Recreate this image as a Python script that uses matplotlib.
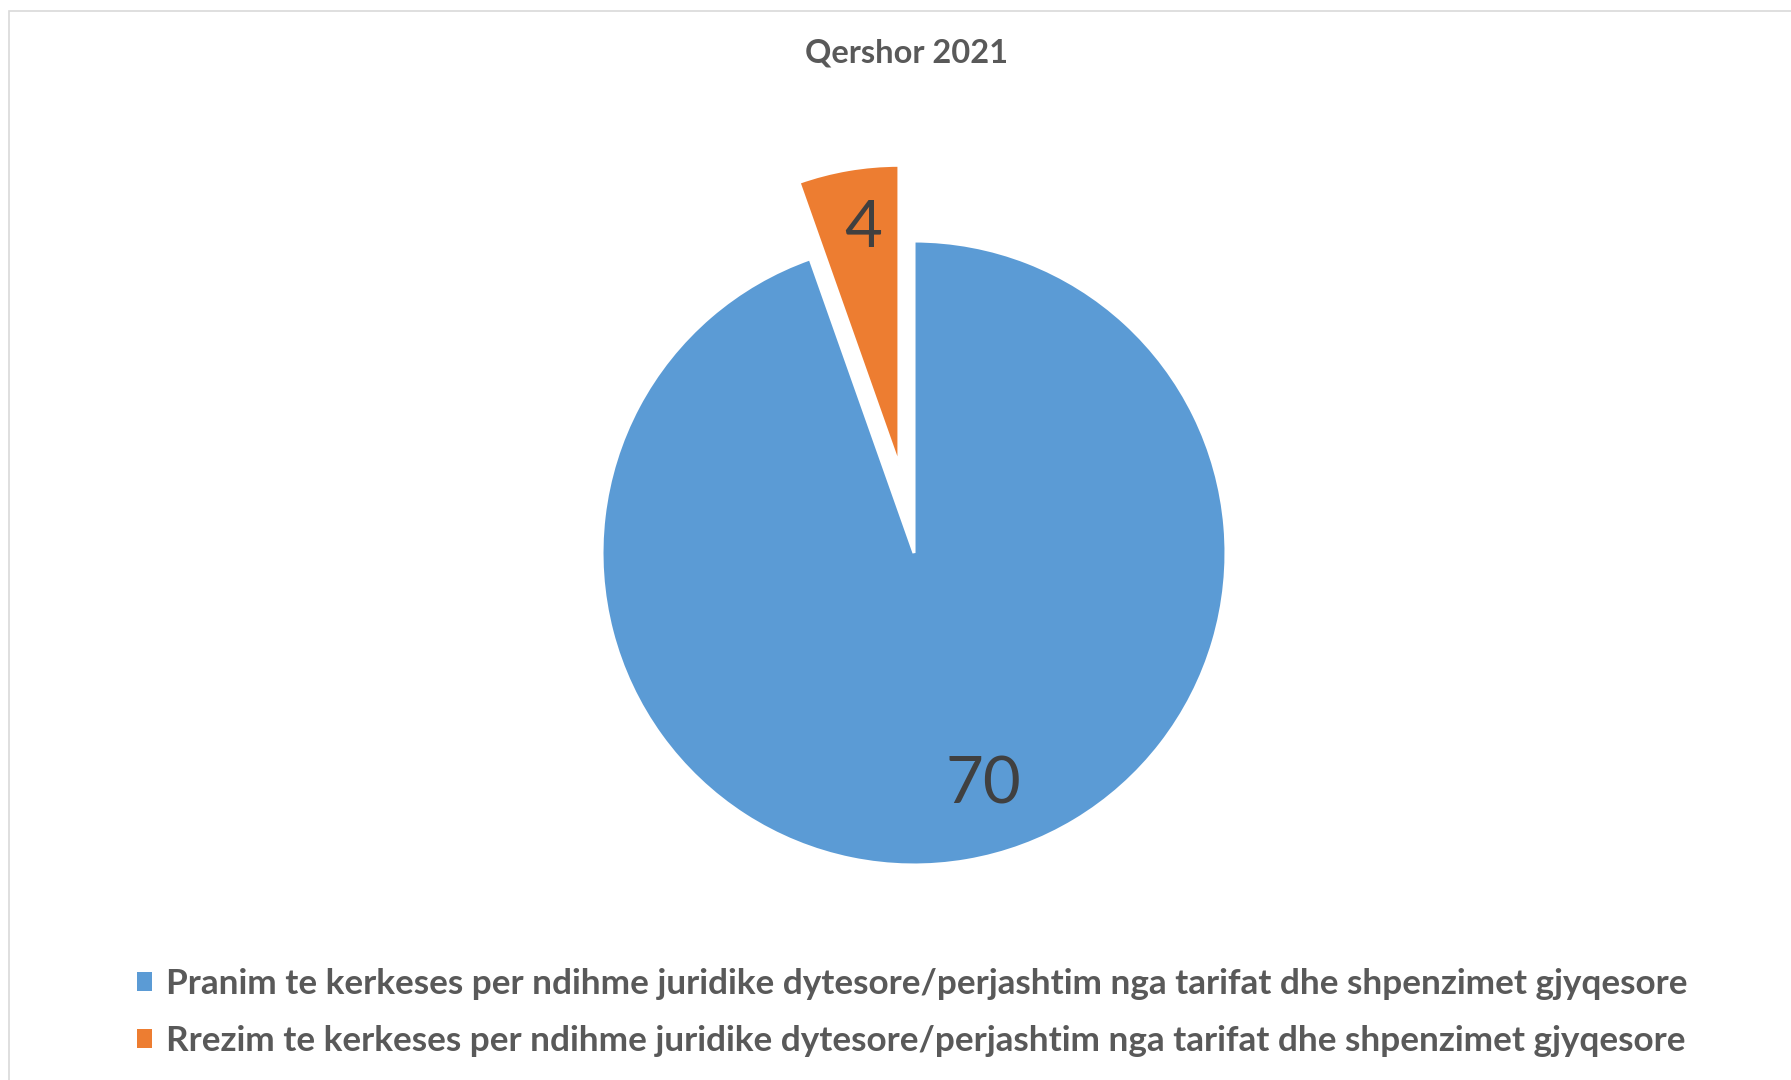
import matplotlib.pyplot as plt
from matplotlib.patches import Patch, Rectangle

plt.rcParams['font.family'] = ['Lato', 'DejaVu Sans']

title = "Qershor 2021"
labels = [
    "Pranim te kerkeses per ndihme juridike dytesore/perjashtim nga tarifat dhe shpenzimet gjyqesore",
    "Rrezim te kerkeses per ndihme juridike dytesore/perjashtim nga tarifat dhe shpenzimet gjyqesore",
]
values = [70, 4]
colors = ["#5B9BD5", "#ED7D31"]

W, H = 1791, 1080
fig = plt.figure(figsize=(W / 100, H / 100), dpi=100)
ax = fig.add_axes([0, 0, 1, 1])

# pie drawn in pixel coordinates (y up); explode is absolute here
cx, cy, r = 914, H - 553, 312
wedges, _ = ax.pie(values, colors=colors, startangle=90, counterclock=False,
                   explode=[0, 89], radius=r, center=(cx, cy),
                   wedgeprops=dict(edgecolor="white", linewidth=2.2))
wedges[1].set_radius(300)

ax.set_xlim(0, W)
ax.set_ylim(0, H)
ax.set_aspect("auto")
ax.axis("off")

# data labels
ax.text(cx + 69, cy - 232, str(values[0]), ha="center", va="center",
        fontsize=47, color="#404040")
ox, oy = wedges[1].center
ax.text(ox - 36, oy + 237, str(values[1]), ha="center", va="center",
        fontsize=47, color="#404040")

fig.text(906 / W, 1 - 53 / H, title, ha="center", va="center",
         fontsize=23.5, fontweight="bold", color="#595959")

handles = [Patch(facecolor=c, edgecolor="none") for c in colors]
leg = fig.legend(handles, labels, loc="upper left",
                 bbox_to_anchor=(105 / W, 1 - 936 / H), frameon=False,
                 prop=dict(size=25.3, weight="bold"), handlelength=0.45,
                 handleheight=0.45, handletextpad=0.4, labelspacing=0.72)
for t in leg.get_texts():
    t.set_color("#595959")

fig.patches.append(Rectangle((9 / W, -0.1), 1.2, 1 - 11 / H + 0.1,
                             transform=fig.transFigure, fill=False,
                             edgecolor="#d9d9d9", linewidth=1.2))

fig.savefig("out.png", dpi=100)
